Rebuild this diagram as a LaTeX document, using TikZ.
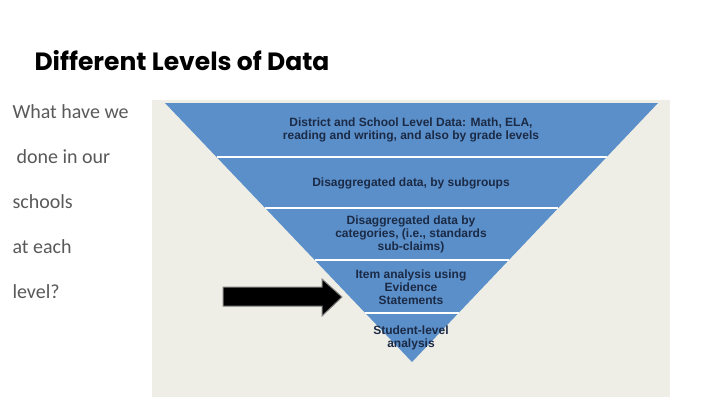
\documentclass[tikz,border=0pt]{standalone}
\usepackage{fontspec}
\setmainfont{Liberation Sans}
\newfontfamily\titlefont{Poppins}
\newfontfamily\sidefont{Carlito}
\definecolor{panel}{HTML}{EEEEE6}
\definecolor{band}{HTML}{5B8FCA}
\definecolor{ink}{HTML}{1B2A45}
\definecolor{side}{HTML}{595959}
\begin{document}
\begin{tikzpicture}[x=1pt,y=-1pt]
            \useasboundingbox (0,0) rectangle (720,405);
            \tikzset{
                level/.style={font=\bfseries\fontsize{12}{13}\selectfont,text=ink,align=center},
                sideline/.style={font=\sidefont\fontsize{20}{22}\selectfont,text=side,anchor=west}
            }
            \node[font=\titlefont\bfseries\fontsize{25}{27}\selectfont,anchor=west] (title) at (31,61) {Different Levels of Data};

            \begin{scope}[every node/.style={sideline}]
                \node (q1) at (9,112) {What have we};
                \node (q2) at (13,157) {done in our};
                \node (q3) at (9,202) {schools};
                \node (q4) at (9,247) {at each};
                \node (q5) at (9,292) {level?};
            \end{scope}

            \fill[panel] (152,100) rectangle (670,397);
            \fill[band] (165,103) -- (658,103) -- (412,362) -- cycle;
            \begin{scope}[white,line width=1.2pt]
                \draw (216.5,157) -- (606.7,157);
                \draw (265.1,208) -- (558.3,208);
                \draw (314.7,260) -- (508.9,260);
                \draw (365.3,313) -- (458.5,313);
            \end{scope}

            \begin{scope}[every node/.style={level}]
                \node (district) at (411,130) {District and School Level Data: Math, ELA,\\reading and writing, and also by grade levels};
                \node (subgroups) at (411,183) {Disaggregated data, by subgroups};
                \node (categories) at (411,234) {Disaggregated data by\\categories, (i.e., standards\\sub-claims)};
                \node (items) at (411,287) {Item analysis using\\Evidence\\Statements};
                \node (student) at (411,338) {Student-level\\analysis};
            \end{scope}

            \fill[black,draw=gray,line width=1pt] (223,287) -- (322,287) -- (322,279) -- (342,297) -- (322,316) -- (322,306) -- (223,306) -- cycle;
            \end{tikzpicture}
\end{document}
